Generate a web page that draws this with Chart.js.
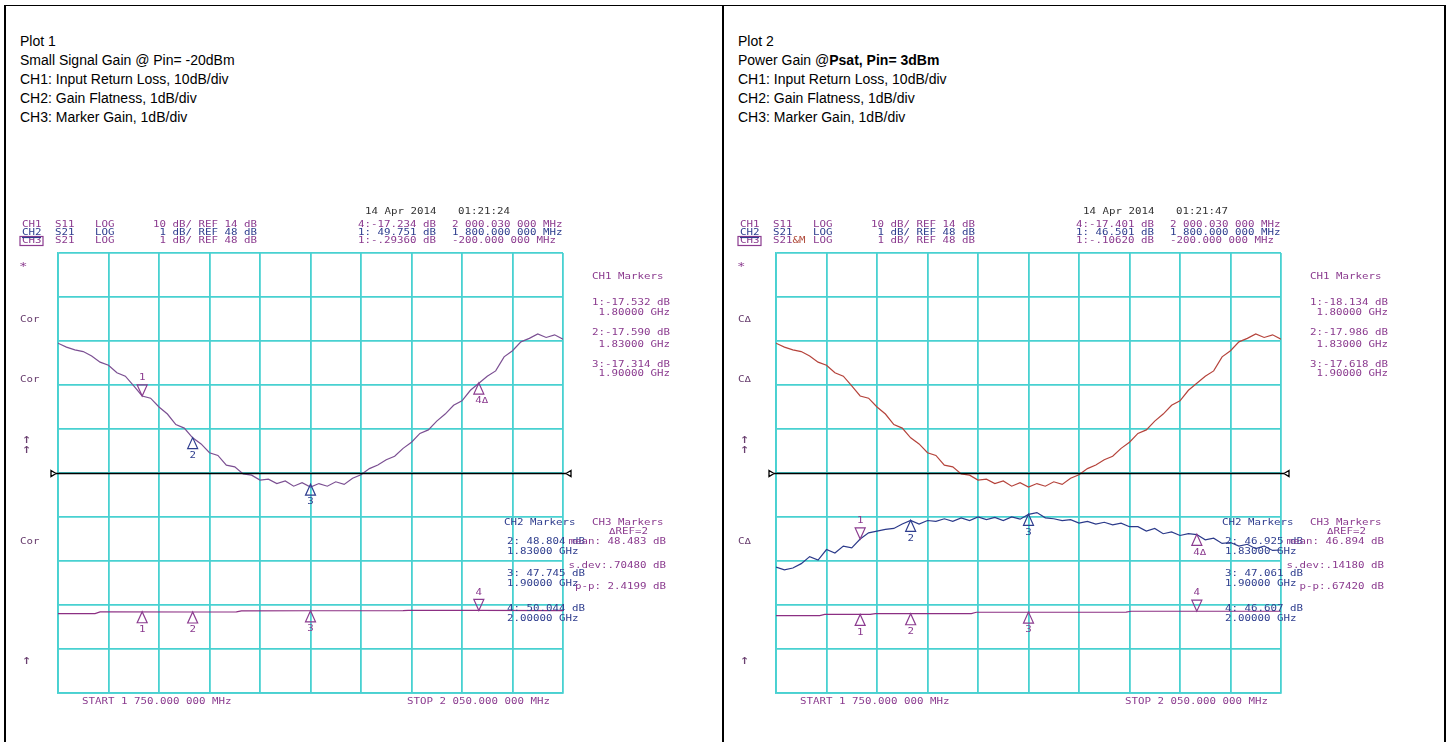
<!DOCTYPE html>
<html>
<head>
<meta charset="utf-8">
<script src="https://cdn.jsdelivr.net/npm/chart.js@4.4.1/dist/chart.umd.min.js"></script>
<style>
  html, body { margin: 0; padding: 0; background: #fff; }
  #page { position: relative; width: 1448px; height: 742px; overflow: hidden; font-family: "Liberation Sans", Arial, sans-serif; }
  .rule { position: absolute; background: #000; }
  .caption { position: absolute; top: 32px; font-size: 14px; line-height: 19px; color: #000; white-space: nowrap; }
  canvas { position: absolute; top: 0; }
</style>
</head>
<body>
<div id="page">
  <div class="rule" style="left:4px;top:5px;width:1442px;height:1px"></div>
  <div class="rule" style="left:4px;top:5px;width:2px;height:737px"></div>
  <div class="rule" style="left:722px;top:5px;width:2px;height:737px"></div>
  <div class="rule" style="left:1444px;top:5px;width:2px;height:737px"></div>
  <div class="caption" style="left:20px">Plot 1<br>Small Signal Gain @ Pin= -20dBm<br>CH1: Input Return Loss, 10dB/div<br>CH2: Gain Flatness, 1dB/div<br>CH3: Marker Gain, 1dB/div</div>
  <div class="caption" style="left:738px">Plot 2<br>Power Gain @<b>Psat, Pin= 3dBm</b><br>CH1: Input Return Loss, 10dB/div<br>CH2: Gain Flatness, 1dB/div<br>CH3: Marker Gain, 1dB/div</div>
  <canvas id="plot1" width="722" height="742" style="left:0"></canvas>
  <canvas id="plot2" width="722" height="742" style="left:718px"></canvas>
</div>
<script>
// sweep 1750 - 2050 MHz, 30 MHz/div
const freqStart = 1750;
const freqStop = 2050;
const freqStep = 30;

// CH1: S11, 10 dB/div, ref 14 dB ; CH2/CH3: S21, 1 dB/div, ref 48 dB
const ch1Ref = 14, ch1Div = 10;
const ch2Ref = 48, ch2Div = 1;

const gainFreqs = [1750, 1755, 1760, 1765, 1770, 1775, 1780, 1785, 1790, 1795,
  1800, 1805, 1810, 1815, 1820, 1825, 1830, 1835, 1840, 1845,
  1850, 1855, 1860, 1865, 1870, 1875, 1880, 1885, 1890, 1895,
  1900, 1905, 1910, 1915, 1920, 1925, 1930, 1935, 1940, 1945,
  1950, 1955, 1960, 1965, 1970, 1975, 1980, 1985, 1990, 1995,
  2000, 2005, 2010, 2015, 2020, 2025, 2030, 2035, 2040, 2045,
  2050];

// small signal gain (plot 1 trace, also stored as memory trace in plot 2)
const smallSignalGain = [50.95, 50.86, 50.80, 50.76, 50.66, 50.52, 50.45, 50.28, 50.20, 49.98,
  49.75, 49.70, 49.50, 49.34, 49.10, 49.02, 48.80, 48.66, 48.46, 48.40,
  48.18, 48.14, 47.98, 47.95, 47.84, 47.86, 47.76, 47.82, 47.70, 47.78,
  47.68, 47.76, 47.70, 47.80, 47.74, 47.88, 47.96, 48.10, 48.18, 48.30,
  48.38, 48.56, 48.70, 48.90, 48.98, 49.18, 49.34, 49.54, 49.64, 49.88,
  50.04, 50.20, 50.32, 50.64, 50.78, 50.98, 51.06, 51.16, 51.08, 51.14,
  51.04];

// gain at Psat (plot 2)
const psatGain = [45.86, 45.80, 45.84, 45.94, 46.10, 46.02, 46.26, 46.18, 46.34, 46.30,
  46.50, 46.64, 46.68, 46.72, 46.74, 46.84, 46.92, 46.84, 46.92, 46.90,
  46.96, 46.90, 46.98, 46.92, 47.00, 46.94, 46.99, 46.92, 47.00, 46.95,
  47.06, 47.10, 46.98, 46.96, 46.92, 46.94, 46.86, 46.90, 46.84, 46.88,
  46.82, 46.86, 46.78, 46.78, 46.68, 46.74, 46.62, 46.66, 46.58, 46.62,
  46.60, 46.48, 46.52, 46.40, 46.42, 46.34, 46.38, 46.28, 46.34, 46.24,
  46.25];

// input return loss traces
const rlFreqs1 = [1750, 1772, 1775, 1830, 1856, 1859, 1900, 1955, 1958, 2000, 2050];
const rlValues1 = [-17.95, -17.95, -17.58, -17.59, -17.57, -17.33, -17.31, -17.30, -17.22, -17.23, -17.28];
const rlFreqs2 = [1750, 1776, 1779, 1806, 1809, 1866, 1869, 1958, 1961, 2050];
const rlValues2 = [-18.40, -18.40, -18.13, -18.13, -17.95, -17.95, -17.65, -17.62, -17.42, -17.42];

// markers
const markerFreqs = [1800, 1830, 1900, 2000];
const gainMarkers1 = [49.751, 48.804, 47.745, 50.044];
const rlMarkers1 = [-17.532, -17.590, -17.314, -17.234];
const gainMarkers2 = [46.501, 46.925, 47.061, 46.607];
const rlMarkers2 = [-18.134, -17.986, -17.618, -17.401];

const gridColor = '#48d1d1';
const purple = '#8b3b8f';
const blue = '#2e3d8e';
const sideColor = '#6a4070';
const monoFont = '"DejaVu Sans Mono", monospace';
const stretch = 1.08;

function pts(xs, ys) {
    return xs.map((x, i) => ({ x: x, y: ys[i] }));
}

function putText(ctx, s, x, y, color, align, size) {
    ctx.save();
    ctx.font = (size || 10) + 'px ' + monoFont;
    ctx.fillStyle = color;
    ctx.textBaseline = 'middle';
    const w = ctx.measureText(s).width * stretch;
    let x0 = x;
    if (align === 'right') x0 = x - w;
    if (align === 'center') x0 = x - w / 2;
    ctx.translate(x0, y);
    ctx.scale(stretch, 0.86);
    ctx.fillText(s, 0, 0);
    ctx.restore();
}

function drawMarker(ctx, px, py, dir, label, color) {
    const h = 11, hw = 5;
    ctx.save();
    ctx.strokeStyle = color;
    ctx.lineWidth = 1.2;
    ctx.beginPath();
    if (dir === 'down') {
        ctx.moveTo(px, py);
        ctx.lineTo(px - hw, py - h);
        ctx.lineTo(px + hw, py - h);
    } else {
        ctx.moveTo(px, py);
        ctx.lineTo(px - hw, py + h);
        ctx.lineTo(px + hw, py + h);
    }
    ctx.closePath();
    ctx.stroke();
    ctx.restore();
    putText(ctx, label, px + (label.length > 1 ? 3 : 0), dir === 'down' ? py - h - 7 : py + h + 7, color, 'center');
}

const vnaOverlay = {
    id: 'vnaOverlay',
    afterDraw(chart, args, opts) {
        const ctx = chart.ctx;
        const xs = chart.scales.x;
        const scaleMap = { y: chart.scales.y, y1: chart.scales.y1 };

        // reference line with end arrows
        const yRef = Math.round(chart.scales.y.getPixelForValue(ch2Ref)) + 0.5;
        ctx.save();
        ctx.strokeStyle = '#000';
        ctx.lineWidth = 1.3;
        ctx.beginPath();
        ctx.moveTo(xs.left - 2, yRef);
        ctx.lineTo(xs.right + 3, yRef);
        ctx.stroke();
        ctx.beginPath();
        ctx.moveTo(xs.left - 7, yRef - 3);
        ctx.lineTo(xs.left - 2, yRef);
        ctx.lineTo(xs.left - 7, yRef + 3);
        ctx.closePath();
        ctx.moveTo(xs.right + 8, yRef - 3);
        ctx.lineTo(xs.right + 3, yRef);
        ctx.lineTo(xs.right + 8, yRef + 3);
        ctx.closePath();
        ctx.stroke();
        ctx.restore();

        // markers on traces
        opts.markerSets.forEach(set => {
            const sc = scaleMap[set.axis];
            markerFreqs.forEach((f, i) => {
                drawMarker(ctx, xs.getPixelForValue(f), sc.getPixelForValue(set.values[i]),
                    set.dirs[i], set.labels[i], set.colors[i]);
            });
        });

        // instrument annotations
        opts.texts.forEach(t => putText(ctx, t[0], t[1], t[2], t[3], t[4], t[5]));

        // CH2 underline, CH3 box
        ctx.save();
        ctx.strokeStyle = purple;
        ctx.lineWidth = 1.2;
        ctx.strokeRect(20, 236.5, 23, 9);
        ctx.strokeStyle = blue;
        ctx.beginPath();
        ctx.moveTo(22, 237.5);
        ctx.lineTo(41, 237.5);
        ctx.stroke();
        ctx.restore();
    }
};

function commonTexts(sideLabel, s21Label) {
    const t = [
        ['CH1', 22, 225, purple], ['S11', 55, 225, purple], ['LOG', 95, 225, purple], ['10 dB/ REF 14 dB', 153, 225, purple],
        ['CH2', 22, 233, blue], ['S21', 55, 233, blue], ['LOG', 95, 233, blue], [' 1 dB/ REF 48 dB', 153, 233, blue],
        ['CH3', 22, 241, purple], ['S21', 55, 241, purple], ['LOG', 95, 241, purple], [' 1 dB/ REF 48 dB', 153, 241, purple],
        ['*', 19, 267, purple, null, 13],
        [sideLabel, 20, 320, sideColor], [sideLabel, 20, 380, sideColor],
        ['\u2191', 22, 440, sideColor, null, 15], ['\u2191', 22, 450, sideColor, null, 15],
        [sideLabel, 20, 542, sideColor], ['\u2191', 22, 661, sideColor, null, 15],
        ['CH1 Markers', 592, 277, purple],
        ['CH2 Markers', 504, 523, blue], ['CH3 Markers', 592, 523, purple],
        ['\u0394REF=2', 609, 532, purple],
        ['START 1 750.000 000 MHz', 82, 702, purple],
        ['STOP 2 050.000 000 MHz', 407, 702, purple]
    ];
    if (s21Label) t.push(['&M', 74.5, 241, '#b04a3a']);
    return t;
}

const texts1 = commonTexts('Cor', false).concat([
    ['14 Apr 2014', 365, 212, '#333'], ['01:21:24', 458, 212, '#333'],
    ['4:-17.234 dB', 358, 225, purple], ['2 000.030 000 MHz', 452, 225, purple],
    ['1: 49.751 dB', 358, 233, blue], ['1 800.000 000 MHz', 452, 233, blue],
    ['1:-.29360 dB', 358, 241, purple], ['-200.000 000 MHz', 452, 241, purple],
    ['1:-17.532 dB', 592, 303, purple], [' 1.80000 GHz', 592, 313, purple],
    ['2:-17.590 dB', 592, 333, purple], [' 1.83000 GHz', 592, 345, purple],
    ['3:-17.314 dB', 592, 365, purple], [' 1.90000 GHz', 592, 374, purple],
    ['2: 48.804 dB', 507, 542, blue], ['1.83000 GHz', 507, 552, blue],
    ['3: 47.745 dB', 507, 574, blue], ['1.90000 GHz', 507, 584, blue],
    ['4: 50.044 dB', 507, 609, blue], ['2.00000 GHz', 507, 619, blue],
    ['mean: 48.483 dB', 666, 542, purple, 'right'],
    ['s.dev:.70480 dB', 666, 566, purple, 'right'],
    ['p-p: 2.4199 dB', 666, 587, purple, 'right']
]);

const texts2 = commonTexts('C\u0394', true).concat([
    ['14 Apr 2014', 365, 212, '#333'], ['01:21:47', 458, 212, '#333'],
    ['4:-17.401 dB', 358, 225, purple], ['2 000.030 000 MHz', 452, 225, purple],
    ['1: 46.501 dB', 358, 233, blue], ['1 800.000 000 MHz', 452, 233, blue],
    ['1:-.10620 dB', 358, 241, purple], ['-200.000 000 MHz', 452, 241, purple],
    ['1:-18.134 dB', 592, 303, purple], [' 1.80000 GHz', 592, 313, purple],
    ['2:-17.986 dB', 592, 333, purple], [' 1.83000 GHz', 592, 345, purple],
    ['3:-17.618 dB', 592, 365, purple], [' 1.90000 GHz', 592, 374, purple],
    ['2: 46.925 dB', 507, 542, blue], ['1.83000 GHz', 507, 552, blue],
    ['3: 47.061 dB', 507, 574, blue], ['1.90000 GHz', 507, 584, blue],
    ['4: 46.607 dB', 507, 609, blue], ['2.00000 GHz', 507, 619, blue],
    ['mean: 46.894 dB', 666, 542, purple, 'right'],
    ['s.dev:.14180 dB', 666, 566, purple, 'right'],
    ['p-p:.67420 dB', 666, 587, purple, 'right']
]);

function buildPlot(id, datasets, overlay) {
    const gridOpts = { color: gridColor, lineWidth: 1.8, drawTicks: false };
    new Chart(document.getElementById(id), {
        type: 'line',
        data: { datasets: datasets },
        options: {
            responsive: false,
            animation: false,
            layout: { padding: { left: 58, top: 253, right: 159, bottom: 49 } },
            elements: { point: { radius: 0 }, line: { borderWidth: 1.2, tension: 0 } },
            scales: {
                x: {
                    type: 'linear', min: freqStart, max: freqStop,
                    ticks: { display: false, stepSize: freqStep },
                    grid: gridOpts, border: { color: gridColor, width: 1.8 }
                },
                y: {
                    min: ch2Ref - 5 * ch2Div, max: ch2Ref + 5 * ch2Div,
                    ticks: { display: false, stepSize: ch2Div },
                    grid: gridOpts, border: { color: gridColor, width: 1.8 }
                },
                y1: { display: false, min: ch1Ref - 5 * ch1Div, max: ch1Ref + 5 * ch1Div }
            },
            plugins: {
                legend: { display: false },
                tooltip: { enabled: false },
                vnaOverlay: overlay
            }
        },
        plugins: [vnaOverlay]
    });
}

// Plot 1: small signal
buildPlot('plot1', [
    { data: pts(gainFreqs, smallSignalGain), borderColor: '#7b4f92', yAxisID: 'y' },
    { data: pts(rlFreqs1, rlValues1), borderColor: '#8c2f83', yAxisID: 'y1' }
], {
    texts: texts1,
    markerSets: [
        { axis: 'y', values: gainMarkers1, dirs: ['down', 'up', 'up', 'up'], labels: ['1', '2', '3', '4\u0394'], colors: [purple, blue, blue, purple] },
        { axis: 'y1', values: rlMarkers1, dirs: ['up', 'up', 'up', 'down'], labels: ['1', '2', '3', '4'], colors: [purple, purple, purple, purple] }
    ]
});

// Plot 2: Psat, memory trace = small signal gain
buildPlot('plot2', [
    { data: pts(gainFreqs, smallSignalGain), borderColor: '#b5433b', yAxisID: 'y' },
    { data: pts(gainFreqs, psatGain), borderColor: '#2b3a8a', yAxisID: 'y' },
    { data: pts(rlFreqs2, rlValues2), borderColor: '#8c2f83', yAxisID: 'y1' }
], {
    texts: texts2,
    markerSets: [
        { axis: 'y', values: gainMarkers2, dirs: ['down', 'up', 'up', 'up'], labels: ['1', '2', '3', '4\u0394'], colors: [purple, blue, blue, purple] },
        { axis: 'y1', values: rlMarkers2, dirs: ['up', 'up', 'up', 'down'], labels: ['1', '2', '3', '4'], colors: [purple, purple, purple, purple] }
    ]
});
</script>
</body>
</html>
